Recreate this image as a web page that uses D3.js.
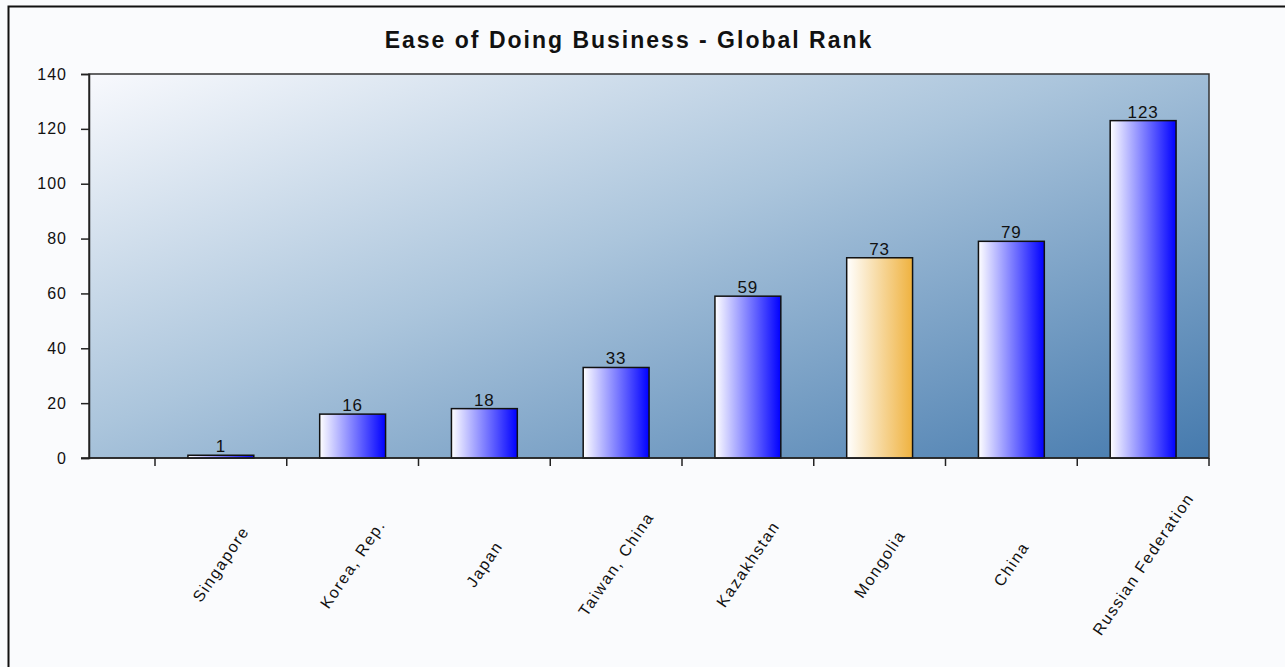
<!DOCTYPE html>
<html>
<head>
<meta charset="utf-8">
<script src="https://cdn.jsdelivr.net/npm/d3@7"></script>
<style>
  body { margin: 0; background: #fafbfd; }
  text { font-family: "Liberation Sans", Arial, sans-serif; fill: #111; }
</style>
</head>
<body>
<script>
// data
var countries = ["Singapore", "Korea, Rep.", "Japan", "Taiwan, China", "Kazakhstan", "Mongolia", "China", "Russian Federation"];
var ranks = [1, 16, 18, 33, 59, 73, 79, 123];
var highlight = ["Mongolia"];
var yTicks = [0, 20, 40, 60, 80, 100, 120, 140];

var W = 1285, H = 667;
var plot = {left: 89, top: 74, right: 1209, bottom: 458};

var svg = d3.select("body").append("svg")
  .attr("width", W)
  .attr("height", H);

var defs = svg.append("defs");

// background gradient of plot area
var bg = defs.append("linearGradient")
  .attr("id", "bgGrad")
  .attr("gradientUnits", "userSpaceOnUse")
  .attr("x1", plot.left).attr("y1", plot.top)
  .attr("x2", plot.left + 250).attr("y2", plot.top + 700);
bg.append("stop").attr("offset", "0%").attr("stop-color", "#f8f9fd");
bg.append("stop").attr("offset", "45%").attr("stop-color", "#abc5dc");
bg.append("stop").attr("offset", "100%").attr("stop-color", "#4479ad");

function barGrad(id, c) {
  var g = defs.append("linearGradient").attr("id", id)
    .attr("x1", "0%").attr("y1", "0%").attr("x2", "100%").attr("y2", "0%");
  g.append("stop").attr("offset", "0%").attr("stop-color", "#ffffff");
  g.append("stop").attr("offset", "100%").attr("stop-color", c);
}
barGrad("blueGrad", "#0000ff");
barGrad("orangeGrad", "#efb23f");

// outer frame
svg.append("rect")
  .attr("x", 8.5).attr("y", 6.5)
  .attr("width", W).attr("height", H)
  .attr("fill", "#fafbfd")
  .attr("stroke", "#111")
  .attr("stroke-width", 2);

// title
svg.append("text")
  .attr("x", 629).attr("y", 48)
  .attr("text-anchor", "middle")
  .style("font-size", "23px")
  .style("font-weight", "bold")
  .style("letter-spacing", "2px")
  .text("Ease of Doing Business - Global Rank");

// scales
var x = d3.scaleBand()
  .domain(countries)
  .range([155, plot.right])
  .paddingInner(0.5)
  .paddingOuter(0.25);

var y = d3.scaleLinear()
  .domain([0, 140])
  .range([plot.bottom, plot.top]);

// plot area
svg.append("rect")
  .attr("x", plot.left).attr("y", plot.top)
  .attr("width", plot.right - plot.left)
  .attr("height", plot.bottom - plot.top)
  .attr("fill", "url(#bgGrad)")
  .attr("stroke", "#333")
  .attr("stroke-width", 1.5);

// bars
svg.selectAll(".bar")
  .data(countries)
  .enter().append("rect")
  .attr("class", "bar")
  .attr("x", function(d) { return x(d); })
  .attr("width", x.bandwidth())
  .attr("y", function(d, i) { return y(ranks[i]); })
  .attr("height", function(d, i) { return plot.bottom - y(ranks[i]); })
  .attr("fill", function(d) { return highlight.indexOf(d) >= 0 ? "url(#orangeGrad)" : "url(#blueGrad)"; })
  .attr("stroke", "#111")
  .attr("stroke-width", 1.5);

// value labels
svg.selectAll(".val")
  .data(countries)
  .enter().append("text")
  .attr("class", "val")
  .attr("x", function(d) { return x(d) + x.bandwidth() / 2; })
  .attr("y", function(d, i) { return y(ranks[i]) - 3; })
  .attr("text-anchor", "middle")
  .style("font-size", "17px")
  .style("letter-spacing", "1px")
  .text(function(d, i) { return ranks[i]; });

// y axis
var yAxis = svg.append("g")
  .attr("transform", "translate(" + plot.left + ",0)")
  .call(d3.axisLeft(y).tickValues(yTicks).tickSize(8).tickPadding(14));
yAxis.selectAll("text").style("font-size", "16px").style("letter-spacing", "1px").attr("fill", "#111");
yAxis.selectAll("line, path").attr("stroke", "#222").attr("stroke-width", 1.5);

// x axis: ticks at band boundaries
var xTickPos = countries.map(function(d) { return x(d) - x.step() * 0.25; });
xTickPos.push(plot.right);
var xAxisG = svg.append("g");
xAxisG.append("line")
  .attr("x1", plot.left - 8).attr("x2", plot.right)
  .attr("y1", plot.bottom).attr("y2", plot.bottom)
  .attr("stroke", "#222").attr("stroke-width", 1.5);
xAxisG.selectAll(".xt")
  .data(xTickPos)
  .enter().append("line")
  .attr("x1", function(d) { return d; }).attr("x2", function(d) { return d; })
  .attr("y1", plot.bottom).attr("y2", plot.bottom + 8)
  .attr("stroke", "#222").attr("stroke-width", 1.5);

// category labels
svg.selectAll(".cat")
  .data(countries)
  .enter().append("text")
  .attr("class", "cat")
  .attr("transform", function(d) {
    return "translate(" + (x(d) + x.bandwidth() / 2) + ",564) rotate(-56)";
  })
  .attr("text-anchor", "middle")
  .attr("dy", "0.35em")
  .style("font-size", "16px")
  .style("letter-spacing", "1.6px")
  .text(function(d) { return d; });
</script>
</body>
</html>
